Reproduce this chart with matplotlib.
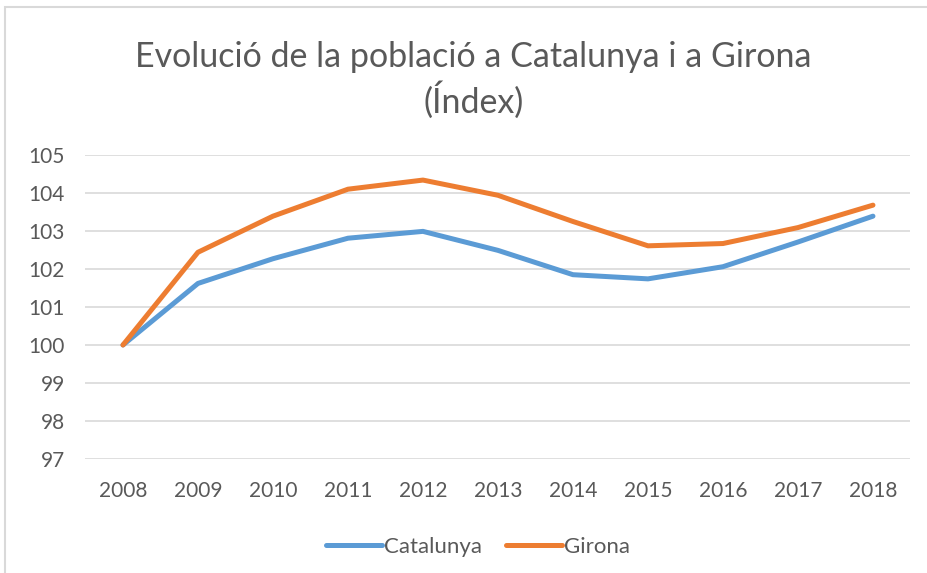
import matplotlib.pyplot as plt
from matplotlib.patches import Rectangle

# Daten (Index, 2008 = 100)
years = ['2008', '2009', '2010', '2011', '2012', '2013', '2014', '2015', '2016', '2017', '2018']
catalunya = [100.0, 101.62, 102.27, 102.81, 102.99, 102.49, 101.85, 101.74, 102.06, 102.71, 103.39]
girona = [100.0, 102.44, 103.39, 104.10, 104.34, 103.94, 103.25, 102.61, 102.67, 103.09, 103.68]
yticks = [97, 98, 99, 100, 101, 102, 103, 104, 105]

plt.rcParams['font.family'] = ['Lato', 'DejaVu Sans']
grey = '#595959'

fig = plt.figure(figsize=(9.28, 5.73), dpi=100)
ax = fig.add_axes([0.0921, 0.199, 0.889, 0.5305])

x = range(len(years))
ax.plot(x, catalunya, color='#5B9BD5', lw=3.6, solid_joinstyle='round', solid_capstyle='round', label='Catalunya')
ax.plot(x, girona, color='#ED7D31', lw=3.6, solid_joinstyle='round', solid_capstyle='round', label='Girona')

ax.set_xlim(-0.5, len(years) - 0.5)
ax.set_ylim(97, 105)
ax.set_yticks(yticks)
ax.set_xticks(list(x))
ax.set_xticklabels(years)
ax.grid(axis='y', color='#D9D9D9', lw=1.2)
ax.set_axisbelow(True)
for s in ax.spines.values():
    s.set_visible(False)
ax.tick_params(length=0, colors=grey, labelsize=15)
ax.tick_params(axis='x', pad=16)
ax.tick_params(axis='y', pad=15)

# Titel (leicht rechts der Achsenmitte, wie im Original)
fig.text(0.51, 0.9, 'Evolució de la població a Catalunya i a Girona', ha='center', va='center',
         fontsize=24.5, color=grey)
fig.text(0.51, 0.825, '(Índex)', ha='center', va='center', fontsize=24.5, color=grey)

ax.legend(loc='center', bbox_to_anchor=(0.476, -0.29), ncol=2, frameon=False, fontsize=16,
          labelcolor=grey, handlelength=2.5, handletextpad=0.1, columnspacing=1.1)

# Rahmen des Diagramms
fig.add_artist(Rectangle((0.005, -0.01), 1.2, 0.997, transform=fig.transFigure,
                         fill=False, edgecolor='#D9D9D9', lw=1.5))

fig.savefig('out.png', dpi=100)
